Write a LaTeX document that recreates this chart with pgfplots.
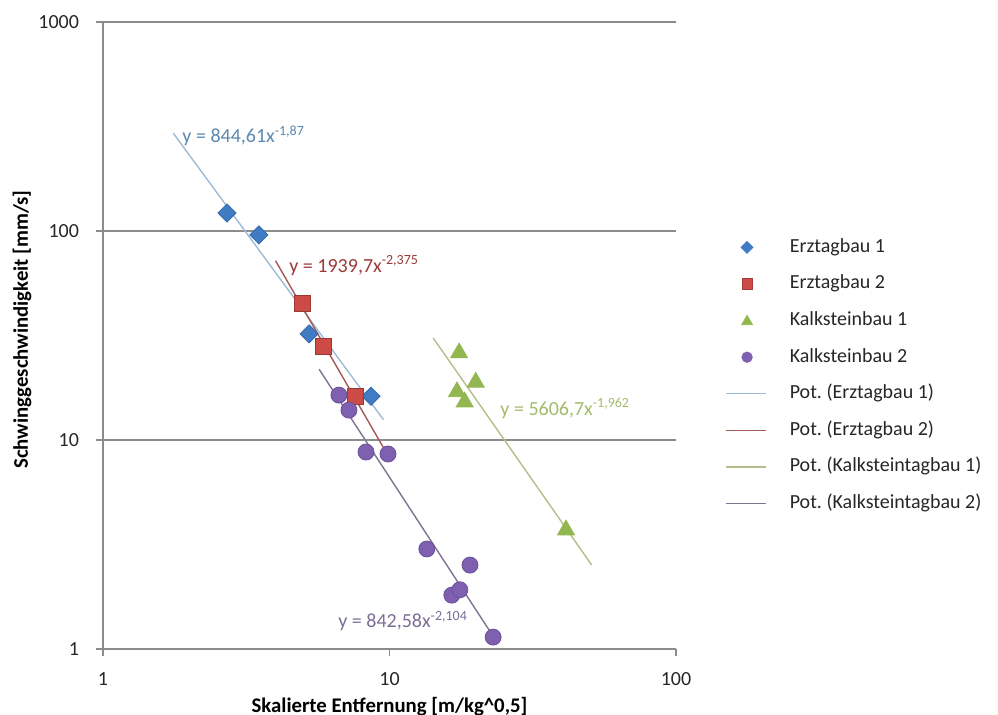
\documentclass[border=0pt]{standalone}
\usepackage{fontspec}
\setmainfont{Carlito}
\usepackage{pgfplots}
\pgfplotsset{compat=1.18}

\definecolor{gridgray}{HTML}{8C8C8C}
\definecolor{txt}{HTML}{262626}
\definecolor{eblue}{HTML}{3F7CC4}
\definecolor{ered}{HTML}{CC4B47}
\definecolor{egreen}{HTML}{92B750}
\definecolor{epurple}{HTML}{7E5FB0}
\definecolor{tblue}{HTML}{9DBAD6}
\definecolor{tred}{HTML}{A35A57}
\definecolor{tgreen}{HTML}{B5BE8A}
\definecolor{tpurple}{HTML}{7F7391}
\definecolor{lblue}{HTML}{5B88AE}
\definecolor{lred}{HTML}{9B3A37}
\definecolor{lgreen}{HTML}{A5BA6C}
\definecolor{lpurple}{HTML}{7D6E97}

\pgfplotsset{
  lgline/.style={legend image code/.code={\draw[#1, line width=0.7pt] (0pt,0pt) -- (20pt,0pt);}},
}

\begin{document}
\begin{tikzpicture}
\path[use as bounding box] (-51.5pt,-33pt) rectangle (447.5pt,324.5pt);
\begin{axis}[
  at={(0,0)}, anchor=south west,
  width=286.5pt, height=313.5pt, scale only axis,
  xmode=log, ymode=log,
  xmin=1, xmax=100, ymin=1, ymax=1000,
  axis x line*=bottom, axis y line*=left,
  axis line style={draw=gridgray, line width=0.75pt, -},
  xtick={1,10,100}, xticklabels={1,10,100},
  ytick={1,10,100,1000}, yticklabels={1,10,100,1000},
  xminorticks=false, yminorticks=false,
  tick align=outside, major tick length=3.5pt,
  tick style={draw=gridgray, line width=0.75pt},
  ymajorgrids, grid style={draw=gridgray, line width=0.75pt},
  ticklabel style={font=\fontsize{10}{12}\selectfont, text=txt},
  yticklabel style={xshift=-5pt},
  xticklabel style={yshift=-4.75pt},
  xlabel={Skalierte Entfernung [m/kg\textasciicircum 0,5]},
  ylabel={Schwinggeschwindigkeit [mm/s]},
  label style={font=\bfseries\fontsize{10.4}{12.5}\selectfont, text=black},
  xlabel style={at={(rel axis cs:0.5,0)}, anchor=center, yshift=-28.8pt},
  ylabel style={at={([xshift=-40.5pt, yshift=3pt]rel axis cs:0,0.5)}, anchor=center},
  legend cell align=left,
  legend style={at={(1,1)}, anchor=north west, xshift=24.5pt, yshift=-108pt,
    draw=none, fill=none, inner sep=0pt, row sep=9.3pt, column sep=11.5pt,
    nodes={inner sep=0pt, text height=7pt, text depth=2pt},
    font=\fontsize{10}{12}\selectfont, text=txt},
]
% Messpunkte
\addplot[only marks, mark=square*, mark size=3.2pt,
  mark options={rotate=45, fill=eblue, draw=eblue!85!black, line width=0.4pt},
  legend image code/.code={\draw[only marks, mark=square*, mark size=2.1pt, mark options={rotate=45, fill=eblue, draw=eblue}] plot coordinates {(10.5pt,0pt)};}]
  coordinates {(2.71,122) (3.50,95.7) (5.24,32.2) (8.62,16.2)};
\addlegendentry{Erztagbau 1}
\addplot[only marks, mark=square*, mark size=4pt,
  mark options={fill=ered, draw=ered!75!black, line width=0.4pt},
  legend image code/.code={\draw[only marks, mark=square*, mark size=2.6pt, mark options={fill=ered, draw=ered!80!black}] plot coordinates {(10.5pt,0pt)};}]
  coordinates {(4.95,45.2) (5.86,27.9) (7.58,16.1)};
\addlegendentry{Erztagbau 2}
\addplot[only marks, mark=triangle*, mark size=4.9pt,
  mark options={fill=egreen, draw=egreen, line width=0.4pt},
  legend image code/.code={\draw[only marks, mark=triangle*, mark size=3.1pt, mark options={fill=egreen, draw=egreen}] plot coordinates {(10.5pt,-0.5pt)};}]
  coordinates {(17.5,26.1) (20.0,18.9) (17.2,17.0) (18.3,15.2) (41.3,3.71)};
\addlegendentry{Kalksteinbau 1}
\addplot[only marks, mark=*, mark size=4pt,
  mark options={fill=epurple, draw=epurple!85!black, line width=0.4pt},
  legend image code/.code={\draw[only marks, mark=*, mark size=2.6pt, mark options={fill=epurple, draw=epurple}] plot coordinates {(10.5pt,0pt)};}]
  coordinates {(6.66,16.4) (7.22,13.9) (8.28,8.76) (9.88,8.57) (13.5,3.01)
               (19.1,2.52) (16.5,1.81) (17.6,1.92) (23.0,1.14)};
\addlegendentry{Kalksteinbau 2}
% Potenz-Trendlinien
\addplot[tblue, line width=0.7pt, lgline=tblue] coordinates {(1.76,293.5) (9.53,12.5)};
\addlegendentry{Pot.\ (Erztagbau 1)}
\addplot[tred, line width=0.7pt, lgline=tred] coordinates {(4.0,72.1) (9.53,9.18)};
\addlegendentry{Pot.\ (Erztagbau 2)}
\addplot[tgreen, line width=0.7pt, lgline=tgreen] coordinates {(14.2,30.8) (50.8,2.52)};
\addlegendentry{Pot.\ (Kalksteintagbau 1)}
\addplot[tpurple, line width=0.7pt, lgline=tpurple] coordinates {(5.68,21.8) (23.5,1.10)};
\addlegendentry{Pot.\ (Kalksteintagbau 2)}

\node[anchor=base west, inner sep=0pt, text=lblue, font=\fontsize{10}{12}\selectfont]
  at (rel axis cs:0.138,0.807) {y = 844,61x\textsuperscript{-1,87}};
\node[anchor=base west, inner sep=0pt, text=lred, font=\fontsize{10}{12}\selectfont]
  at (rel axis cs:0.3246,0.601) {y = 1939,7x\textsuperscript{-2,375}};
\node[anchor=base west, inner sep=0pt, text=lgreen, font=\fontsize{10}{12}\selectfont]
  at (rel axis cs:0.693,0.373) {y = 5606,7x\textsuperscript{-1,962}};
\node[anchor=base west, inner sep=0pt, text=lpurple, font=\fontsize{10}{12}\selectfont]
  at (rel axis cs:0.410,0.0335) {y = 842,58x\textsuperscript{-2,104}};
\end{axis}
\end{tikzpicture}
\end{document}
